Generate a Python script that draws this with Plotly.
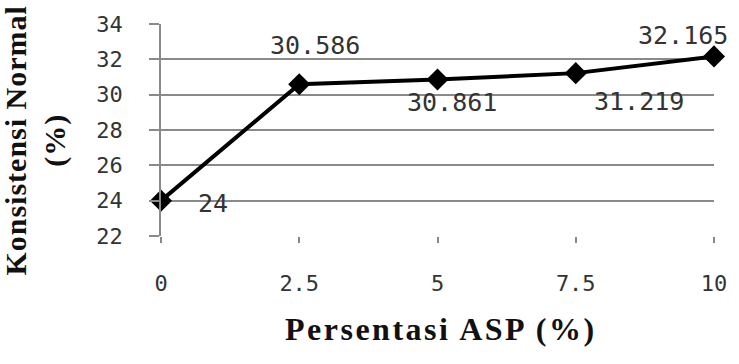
import plotly.graph_objects as go

asp = [0, 2.5, 5, 7.5, 10]
konsistensi = [24, 30.586, 30.861, 31.219, 32.165]
labels = ["24", "30.586", "30.861", "31.219", "32.165"]
x_ticks = [0, 2.5, 5, 7.5, 10]
x_ticklabels = ["0", "2.5", "5", "7.5", "10"]
y_ticks = [22, 24, 26, 28, 30, 32, 34]

# label offsets (style)
shifts = [(52, -3), (16, 39), (14, -23), (63, -28), (-31, 21)]

MONO = "DejaVu Sans Mono"
SERIF = "Liberation Serif"

fig = go.Figure()
fig.add_trace(go.Scatter(
    x=asp, y=konsistensi, mode="lines+markers",
    line=dict(color="black", width=4),
    marker=dict(symbol="diamond", size=17, color="black"),
    cliponaxis=False, showlegend=False,
))

for xv, yv, t, (dx, dy) in zip(asp, konsistensi, labels, shifts):
    fig.add_annotation(x=xv, y=yv, text=t, showarrow=False,
                       xshift=dx, yshift=dy,
                       font=dict(family=MONO, size=25, color="#333"))

fig.add_annotation(xref="paper", yref="paper", x=-0.226, y=0.45,
                   xanchor="center", yanchor="middle",
                   text="<span style='letter-spacing:1px'><b>Konsistensi Normal<br>(%)</b></span>",
                   textangle=-90, showarrow=False,
                   font=dict(family=SERIF, size=30, color="#111"))

fig.add_annotation(xref="paper", yref="paper", x=0.506, y=-0.44,
                   xanchor="center", yanchor="middle",
                   text="<span style='letter-spacing:2.5px'><b>Persentasi ASP (%)</b></span>",
                   showarrow=False,
                   font=dict(family=SERIF, size=32, color="#111"))

fig.update_layout(
    width=739, height=364,
    margin=dict(l=161, r=18, t=22, b=128),
    paper_bgcolor="white", plot_bgcolor="white",
    xaxis=dict(range=[0, 10], tickvals=x_ticks, ticktext=x_ticklabels,
               showgrid=False, zeroline=False, showline=False,
               ticks="outside", ticklen=6, tickcolor="#888", tickwidth=1.5,
               ticklabelstandoff=22,
               tickfont=dict(family=MONO, size=22, color="#333")),
    yaxis=dict(range=[22, 34], tickvals=y_ticks,
               showgrid=True, gridcolor="#8a8a8a", gridwidth=1.5,
               zeroline=False, showline=True, linecolor="#8a8a8a", linewidth=1.5,
               ticks="outside", ticklen=10, tickcolor="#8a8a8a", tickwidth=1.5,
               ticklabelstandoff=22,
               tickfont=dict(family=MONO, size=22, color="#333")),
)

fig.write_html("out.html")
